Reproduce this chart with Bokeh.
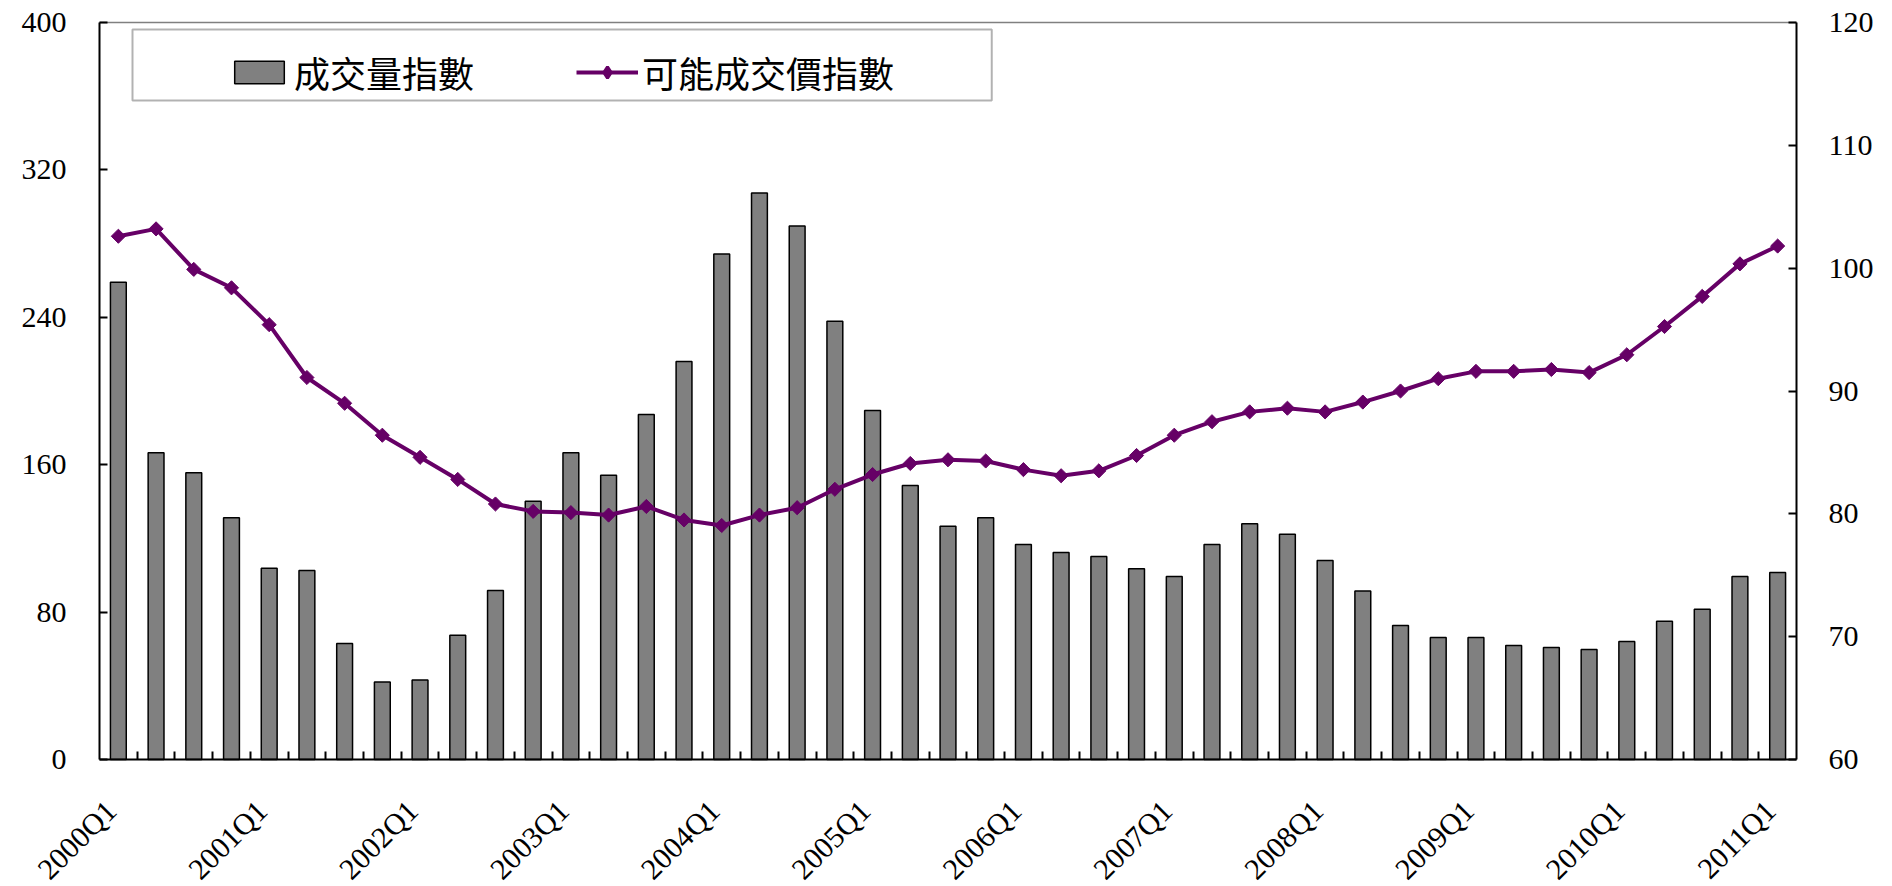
import math
import numpy as np
from bokeh.plotting import figure
from bokeh.models import (Range1d, LinearAxis, FixedTicker, Legend, LegendItem,
                          BoxAnnotation, ColumnDataSource)
from bokeh.embed import file_html
from bokeh.resources import INLINE

# ---------------- data ----------------
quarters = [f"{y}Q{q}" for y in range(2000, 2012) for q in range(1, 5)][:45]
tick_labels = ["2000Q1", "2001Q1", "2002Q1", "2003Q1", "2004Q1", "2005Q1",
               "2006Q1", "2007Q1", "2008Q1", "2009Q1", "2010Q1", "2011Q1"]
volume_index = [259.0, 166.5, 155.6, 131.2, 103.8, 102.6, 63.0, 42.0, 43.2, 67.5,
                91.7, 140.2, 166.5, 154.3, 187.2, 216.0, 274.3, 307.4, 289.6, 237.9,
                189.4, 148.7, 126.6, 131.2, 116.7, 112.3, 110.2, 103.5, 99.3, 116.7,
                127.9, 122.3, 108.0, 91.5, 72.7, 66.2, 66.2, 61.9, 60.8, 59.7,
                64.0, 75.1, 81.6, 99.3, 101.5]
price_index = [102.6, 103.2, 99.9, 98.4, 95.4, 91.1, 89.0, 86.4, 84.6, 82.8,
               80.8, 80.2, 80.1, 79.9, 80.6, 79.5, 79.05, 79.9, 80.5, 82.0,
               83.2, 84.1, 84.4, 84.3, 83.6, 83.1, 83.5, 84.75, 86.4, 87.5,
               88.3, 88.6, 88.3, 89.1, 90.0, 91.0, 91.6, 91.6, 91.75, 91.5,
               92.95, 95.25, 97.7, 100.35, 101.8]
left_ticks = [0, 80, 160, 240, 320, 400]
right_ticks = [60, 70, 80, 90, 100, 110, 120]
series_names = ["成交量指數", "可能成交價指數"]

# ---------------- layout constants (pixels) ----------------
W, H = 1892, 886
AREA_LEFT, AREA_RIGHT = 99, 1796     # plot-area edges (value axes)
AREA_TOP, AXIS_Y = 22, 759           # plot-area top, category axis line
N = len(quarters)
X_LO, X_HI = -0.5, N - 0.5
L_LO, L_HI = left_ticks[0], left_ticks[-1]
R_LO, R_HI = right_ticks[0], right_ticks[-1]

ppx = (AREA_RIGHT - AREA_LEFT) / (X_HI - X_LO)
x_range = Range1d(X_LO - AREA_LEFT / ppx, X_HI + (W - AREA_RIGHT) / ppx)
ppl = (AXIS_Y - AREA_TOP) / (L_HI - L_LO)
left_range = Range1d(L_LO - (H - AXIS_Y) / ppl, L_HI + AREA_TOP / ppl)
ppr = (AXIS_Y - AREA_TOP) / (R_HI - R_LO)
right_range = Range1d(R_LO - (H - AXIS_Y) / ppr, R_HI + AREA_TOP / ppr)

xs = np.arange(N)
src = ColumnDataSource(dict(x=xs, q=quarters, vol=volume_index, price=price_index))

FONT = "Liberation Serif"
CJK = "Noto Sans CJK TC"
PURPLE = "#660066"

p = figure(width=W, height=H, output_backend="svg", toolbar_location=None,
           x_range=x_range, y_range=left_range,
           min_border_left=0, min_border_right=0, min_border_top=0, min_border_bottom=0)
p.background_fill_color = "white"
p.border_fill_color = "white"
p.outline_line_color = None
p.xgrid.visible = False
p.ygrid.visible = False
p.extra_y_ranges = {"right": right_range}

bars = p.vbar(x="x", top="vol", width=0.42, bottom=L_LO, source=src,
              fill_color="#808080", line_color="black", line_width=1.5)
ln = p.line(x="x", y="price", source=src, y_range_name="right",
            line_color=PURPLE, line_width=4)
mk = p.scatter(x="x", y="price", source=src, y_range_name="right", marker="square",
               angle=math.pi / 4, size=10, fill_color=PURPLE, line_color=PURPLE)
# zero-size twin used only for the legend swatch (diamond)
mk_leg = p.scatter(x="x", y="price", source=src, y_range_name="right", marker="diamond",
                   size=0, fill_color=PURPLE, line_color=PURPLE, line_width=3)

# category axis pinned at the zero line; labels hang below it
xa = p.xaxis[0]
q1_idx = [quarters.index(t) for t in tick_labels]
LABEL_SHIFT = -0.2
label_pos = [i + LABEL_SHIFT for i in q1_idx]
xa.fixed_location = L_LO
xa.bounds = (X_LO, X_HI)
xa.ticker = FixedTicker(ticks=label_pos, minor_ticks=[i - 0.5 for i in range(1, N)])
xa.major_label_overrides = {pos: t for pos, t in zip(label_pos, tick_labels)}
xa.major_label_orientation = math.pi / 4
xa.major_tick_in = 0
xa.major_tick_out = 0
xa.minor_tick_in = 8
xa.minor_tick_out = 0
xa.major_label_standoff = 46

# left value axis
ya = p.yaxis[0]
ya.fixed_location = X_LO
ya.ticker = FixedTicker(ticks=left_ticks, minor_ticks=[])
ya.bounds = (L_LO, L_HI)
ya.major_tick_in = 8
ya.major_tick_out = 0
ya.major_label_standoff = 33

# right value axis
ra = LinearAxis(y_range_name="right", ticker=FixedTicker(ticks=right_ticks, minor_ticks=[]))
ra.fixed_location = X_HI
ra.bounds = (R_LO, R_HI)
ra.major_tick_in = 8
ra.major_tick_out = 0
ra.major_label_standoff = 32
p.add_layout(ra, "right")

# thin grey top border of the plot area
top = LinearAxis(ticker=FixedTicker(ticks=[], minor_ticks=[]), axis_line_color="#808080",
                 axis_line_width=1.5, major_tick_in=0, major_tick_out=0,
                 minor_tick_in=0, minor_tick_out=0, major_label_text_font_size="0px")
top.fixed_location = L_HI
top.bounds = (X_LO, X_HI)
p.add_layout(top, "above")

for ax in (xa, ya, ra):
    ax.axis_line_color = "black"
    ax.axis_line_width = 2
    ax.major_tick_line_color = "black"
    ax.major_tick_line_width = 2
    ax.minor_tick_line_color = "black"
    ax.minor_tick_line_width = 2
    ax.major_label_text_font = FONT
    ax.major_label_text_font_size = "30px"
    ax.major_label_text_color = "black"

# legend frame
box = BoxAnnotation(left=0.375, right=23.16, top=396.2, bottom=357.7,
                    fill_color="white", fill_alpha=1.0, line_color="black", line_width=2)
p.add_layout(box)

legend = Legend(items=[LegendItem(label=series_names[0], renderers=[bars]),
                       LegendItem(label=series_names[1], renderers=[ln, mk_leg])],
                orientation="horizontal", location=(AREA_LEFT + 129, 661 + (H - AXIS_Y)),
                border_line_color=None, background_fill_alpha=0,
                padding=0, margin=0, spacing=97, glyph_width=62, glyph_height=28,
                label_standoff=4, label_text_font=CJK, label_text_font_size="36px",
                label_text_color="black", label_width=185, label_height=36)
p.add_layout(legend, "center")

open("out.html", "w").write(file_html(p, INLINE))
